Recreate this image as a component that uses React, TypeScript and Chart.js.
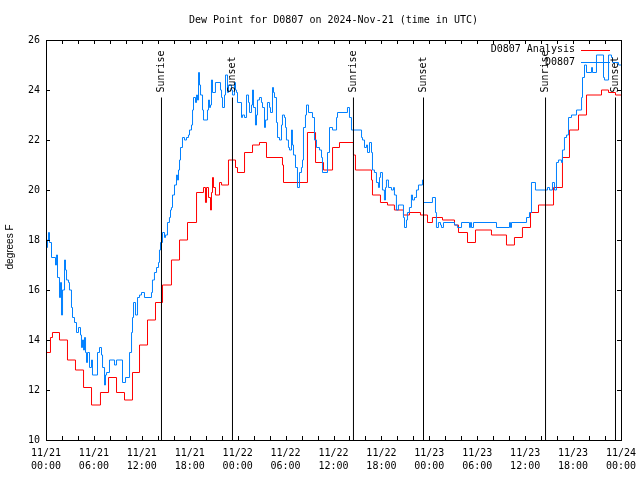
import React, { useEffect, useRef } from 'react';
import { Chart, registerables } from 'chart.js';

Chart.register(...registerables);

const MONO = '"DejaVu Sans Mono", "Liberation Mono", monospace';

const chartTitle = 'Dew Point for D0807 on 2024-Nov-21 (time in UTC)';
const yAxisTitle = 'degrees F';
const seriesNames = ['D0807 Analysis', 'D0807'];
const analysisColor = '#ff0000';
const obsColor = '#0080ff';

const yMin = 10;
const yMax = 26;
const yStep = 2;
const xMaxHours = 72;
const xTickStepHours = 2;
const xLabelEveryHours = 6;
const xTickDates = ['11/21', '11/21', '11/21', '11/21', '11/22', '11/22', '11/22', '11/22', '11/23', '11/23', '11/23', '11/23', '11/24'];
const xTickTimes = ['00:00', '06:00', '12:00', '18:00', '00:00', '06:00', '12:00', '18:00', '00:00', '06:00', '12:00', '18:00', '00:00'];

// Sunrise / sunset markers (hours since 11/21 00:00 UTC)
const eventHours = [14.46, 23.35, 38.5, 47.27, 62.55, 71.31];
const eventLabels = ['Sunrise', 'Sunset', 'Sunrise', 'Sunset', 'Sunrise', 'Sunset'];
const eventTopF = 23.7;

// Analysis (hourly steps)
const anaHours = [
  0, 0.56, 0.81, 1.69, 2.69, 3.69, 4.7, 5.7, 6.82, 7.83, 8.83, 9.83, 10.83, 11.71, 12.71, 13.71, 14.59, 15.71, 16.72, 17.72,
  18.85, 19.72, 19.97, 20.1, 20.35, 20.6, 20.72, 20.85, 20.97, 21.22, 21.73, 21.98, 22.85, 23.73, 23.98, 24.86, 25.86, 26.73,
  27.61, 29.61, 29.74, 32.74, 33.75, 34.75, 35.88, 36.75, 38.5, 38.75, 40.76, 40.88, 41.88, 42.76, 43.63, 44.76, 45.51, 46.89,
  47.77, 48.39, 49.65, 51.15, 51.65, 52.78, 53.78, 55.78, 57.66, 58.66, 59.66, 60.67, 61.67, 63.55, 64.67, 65.55, 66.68, 67.68,
  69.56, 70.44, 71.31, 72,
];
const anaDewF = [
  13.5, 14.1, 14.3, 14.0, 13.2, 12.8, 12.1, 11.4, 11.9, 12.5, 11.9, 11.6, 12.7, 13.8, 14.8, 15.5, 16.2, 17.2, 18.0, 18.7,
  19.9, 20.1, 19.5, 20.1, 19.7, 19.2, 19.9, 20.5, 20.1, 19.8, 20.3, 20.2, 21.2, 20.9, 20.7, 21.5, 21.8, 21.9,
  21.3, 21.0, 20.3, 22.3, 21.1, 20.8, 21.7, 21.9, 21.4, 20.8, 20.4, 19.8, 19.5, 19.4, 19.2, 19.0, 19.1, 19.0,
  18.7, 18.9, 18.8, 18.6, 18.3, 17.9, 18.4, 18.2, 17.8, 18.1, 18.5, 19.1, 19.4, 20.1, 21.3, 22.4, 23.0, 23.8,
  24.0, 23.9, 23.8, 23.8,
];

// Observations
const obsHours = [
  0, 0.19, 0.31, 0.44, 0.69, 1.19, 1.31, 1.44, 1.69, 1.82, 1.94, 2.07, 2.32, 2.44, 2.57, 2.82, 2.94, 3.19, 3.32, 3.57,
  3.82, 4.07, 4.32, 4.44, 4.57, 4.7, 4.82, 4.95, 5.07, 5.2, 5.45, 5.7, 5.82, 6.45, 6.7, 6.95, 7.08, 7.33, 7.45, 7.58,
  7.95, 8.58, 8.83, 9.58, 9.96, 10.46, 10.71, 10.83, 10.96, 11.21, 11.46, 11.71, 11.96, 12.33, 13.21, 13.33, 13.58, 13.84, 14.09, 14.21,
  14.34, 14.59, 14.84, 14.96, 15.21, 15.46, 15.59, 15.71, 15.84, 16.09, 16.34, 16.46, 16.59, 16.72, 16.84, 17.09, 17.34, 17.59, 17.84, 17.97,
  18.22, 18.35, 18.47, 18.72, 18.85, 18.97, 19.1, 19.22, 19.35, 19.6, 19.72, 20.22, 20.35, 20.47, 20.6, 20.72, 20.85, 21.22, 21.85, 21.98,
  22.1, 22.35, 22.48, 22.73, 22.85, 23.23, 23.35, 23.6, 23.73, 23.85, 23.98, 24.48, 24.6, 24.86, 25.11, 25.36, 25.48, 25.73, 25.86, 25.98,
  26.23, 26.36, 26.48, 26.73, 26.98, 27.11, 27.36, 27.48, 27.73, 27.99, 28.11, 28.36, 28.49, 28.61, 28.86, 28.99, 29.24, 29.49, 29.61, 29.86,
  29.99, 30.11, 30.36, 30.49, 30.74, 30.86, 30.99, 31.24, 31.49, 31.74, 31.99, 32.12, 32.24, 32.49, 32.62, 32.87, 33.37, 33.62, 33.87, 34.25,
  34.5, 34.62, 35.25, 35.5, 35.88, 36.38, 36.5, 37.75, 38.0, 38.25, 39.51, 39.63, 39.88, 40.13, 40.26, 40.51, 40.76, 40.88, 41.13, 41.38,
  41.63, 41.76, 41.88, 42.13, 42.38, 42.51, 42.63, 42.88, 43.26, 43.51, 43.63, 43.88, 44.13, 44.76, 44.89, 45.14, 45.26, 45.51, 45.76, 45.89,
  46.14, 46.39, 46.64, 47.14, 47.27, 48.39, 48.77, 48.89, 49.14, 49.4, 49.52, 49.77, 51.15, 51.52, 52.03, 53.03, 53.15, 53.28, 53.53, 56.41,
  58.04, 58.16, 58.29, 60.17, 60.54, 60.79, 61.29, 62.8, 63.05, 63.42, 63.67, 63.92, 64.17, 64.55, 64.67, 64.92, 65.18, 65.43, 65.8, 66.43,
  67.06, 67.18, 67.43, 67.68, 68.31, 68.43, 68.93, 69.81, 69.93, 70.44, 70.81, 70.94, 71.69, 72,
];
const obsDewF = [
  17.7, 18.0, 18.3, 17.9, 17.3, 17.0, 17.4, 16.5, 15.7, 16.3, 15.0, 16.0, 17.2, 16.8, 16.4, 16.3, 16.0, 15.3, 14.9, 14.7,
  14.3, 14.5, 14.2, 13.7, 14.0, 13.6, 14.1, 13.5, 13.1, 13.5, 12.9, 13.2, 12.6, 13.5, 13.7, 13.4, 12.9, 12.2, 12.6, 12.7,
  13.2, 13.0, 13.2, 12.3, 12.5, 13.5, 14.3, 14.9, 15.5, 15.0, 15.7, 15.8, 15.9, 15.7, 15.9, 16.4, 16.7, 16.9, 17.1, 17.6,
  17.9, 18.3, 18.1, 18.2, 18.7, 18.9, 19.2, 19.3, 19.8, 20.2, 20.6, 20.4, 20.8, 21.2, 21.7, 22.1, 22.0, 22.1, 22.2, 22.4,
  22.6, 23.2, 23.7, 23.5, 23.8, 23.6, 24.7, 24.2, 23.8, 23.2, 22.8, 23.2, 23.6, 23.3, 23.4, 24.4, 23.9, 24.3, 24.0, 23.7,
  23.3, 23.8, 24.6, 23.9, 24.2, 24.0, 23.8, 24.3, 24.0, 23.9, 23.5, 22.9, 23.0, 22.9, 23.8, 23.5, 23.1, 23.4, 24.0, 23.3,
  22.6, 23.0, 23.6, 23.7, 23.5, 23.3, 22.5, 22.8, 23.5, 23.3, 23.1, 24.1, 23.9, 23.7, 22.7, 22.1, 22.0, 22.6, 23.0, 22.9,
  22.5, 22.0, 21.7, 21.6, 22.4, 21.8, 21.4, 20.9, 20.1, 20.7, 20.9, 21.2, 22.5, 23.0, 23.4, 23.1, 22.9, 22.0, 21.7, 21.6,
  21.3, 20.7, 21.5, 22.5, 22.4, 22.9, 23.1, 23.3, 22.9, 22.4, 22.1, 22.0, 21.7, 21.8, 21.5, 21.9, 21.5, 20.8, 20.7, 20.3,
  20.1, 20.5, 20.7, 20.0, 19.6, 20.1, 20.4, 20.1, 20.0, 20.1, 19.8, 19.2, 19.4, 18.9, 18.5, 18.8, 19.1, 19.3, 19.8, 19.6,
  19.7, 20.0, 20.2, 20.4, 19.5, 19.7, 19.1, 18.5, 18.7, 18.6, 18.5, 18.7, 18.6, 18.5, 18.7, 18.5, 18.7, 18.5, 18.7, 18.5,
  18.7, 18.5, 18.7, 18.9, 19.1, 20.3, 20.0, 20.1, 20.0, 20.3, 20.0, 21.1, 21.2, 21.1, 21.6, 22.1, 22.2, 22.9, 23.0, 23.2,
  23.7, 24.5, 25.0, 24.7, 24.9, 24.7, 25.4, 24.5, 24.4, 25.4, 25.3, 25.1, 25.0, 25.0,
];

const overlayPlugin = {
  id: 'gnuplotOverlay',
  afterDatasetsDraw(chart: any) {
    const { ctx, chartArea: a, scales } = chart;
    const xs = scales.x;
    const ys = scales.y;
    ctx.save();
    ctx.strokeStyle = '#000';
    ctx.lineWidth = 1;
    ctx.beginPath();
    xs.ticks.forEach((t: any) => {
      const px = Math.round(xs.getPixelForValue(t.value)) + 0.5;
      ctx.moveTo(px, a.bottom);
      ctx.lineTo(px, a.bottom - 4);
      ctx.moveTo(px, a.top);
      ctx.lineTo(px, a.top + 4);
    });
    ys.ticks.forEach((t: any) => {
      const py = Math.round(ys.getPixelForValue(t.value)) + 0.5;
      ctx.moveTo(a.left, py);
      ctx.lineTo(a.left + 4, py);
      ctx.moveTo(a.right, py);
      ctx.lineTo(a.right - 4, py);
    });
    ctx.stroke();
    ctx.strokeRect(a.left + 0.5, a.top + 0.5, a.right - a.left, a.bottom - a.top);

    // event labels
    ctx.fillStyle = '#000';
    ctx.font = `10px ${MONO}`;
    ctx.textAlign = 'left';
    ctx.textBaseline = 'middle';
    eventHours.forEach((h, i) => {
      const px = xs.getPixelForValue(h);
      const py = ys.getPixelForValue(eventTopF) - 5;
      ctx.save();
      ctx.translate(px, py);
      ctx.rotate(-Math.PI / 2);
      ctx.fillText(eventLabels[i], 0, 0);
      ctx.restore();
    });

    // key
    const rows = [
      { name: seriesNames[0], color: analysisColor },
      { name: seriesNames[1], color: obsColor },
    ];
    ctx.textAlign = 'right';
    rows.forEach((r, i) => {
      const y = a.top + 9.5 + i * 12.5;
      ctx.fillStyle = '#000';
      ctx.fillText(r.name, a.right - 46, y);
      ctx.strokeStyle = r.color;
      ctx.beginPath();
      const ly = Math.round(y) + 0.5;
      ctx.moveTo(a.right - 40, ly);
      ctx.lineTo(a.right - 11, ly);
      ctx.stroke();
    });
    ctx.restore();
  },
};

export default function App() {
  const ref = useRef<HTMLCanvasElement>(null);
  useEffect(() => {
    const canvas = ref.current;
    if (!canvas) return;
    const chart = new Chart(canvas, {
      type: 'line',
      data: {
        datasets: [
          {
            label: seriesNames[0],
            data: anaHours.map((h, i) => ({ x: h, y: anaDewF[i] })),
            borderColor: analysisColor,
            borderWidth: 1,
            pointRadius: 0,
            stepped: 'before',
            fill: false,
            order: 1,
          },
          {
            label: seriesNames[1],
            data: obsHours.map((h, i) => ({ x: h, y: obsDewF[i] })),
            borderColor: obsColor,
            borderWidth: 1,
            pointRadius: 0,
            stepped: 'before',
            fill: false,
            order: 0,
          },
          ...eventHours.map((h, i) => ({
            label: eventLabels[i],
            data: [
              { x: h, y: yMin },
              { x: h, y: eventTopF },
            ],
            borderColor: '#000',
            borderWidth: 1,
            pointRadius: 0,
            fill: false,
            order: -1,
          })),
        ] as any,
      },
      options: {
        responsive: false,
        animation: false,
        devicePixelRatio: 1,
        events: [],
        layout: { padding: { left: 0, right: 19, top: 0, bottom: 0 } },
        plugins: {
          legend: { display: false },
          tooltip: { enabled: false },
          title: {
            display: true,
            text: chartTitle,
            fullSize: false,
            color: '#000',
            font: { family: MONO, size: 10, weight: 'normal', lineHeight: 1.2 },
            padding: { top: 14, bottom: 14 },
          },
        },
        scales: {
          x: {
            type: 'linear',
            min: 0,
            max: xMaxHours,
            afterFit: (s: any) => {
              s.height = 40;
              s.paddingLeft = 0;
              s.paddingRight = 0;
            },
            grid: { display: false, drawTicks: false, tickLength: 0 },
            border: { display: false },
            ticks: {
              stepSize: xTickStepHours,
              autoSkip: false,
              maxRotation: 0,
              minRotation: 0,
              padding: 7,
              color: '#000',
              font: { family: MONO, size: 10, lineHeight: 1.3 },
              callback: (v: any) => {
                const h = Number(v);
                if (h % xLabelEveryHours !== 0) return '';
                const i = h / xLabelEveryHours;
                return [xTickDates[i], xTickTimes[i]];
              },
            },
          },
          y: {
            type: 'linear',
            min: yMin,
            max: yMax,
            afterFit: (s: any) => {
              s.width = 46;
              s.paddingTop = 0;
              s.paddingBottom = 0;
            },
            grid: { display: false, drawTicks: false, tickLength: 0 },
            border: { display: false },
            ticks: {
              stepSize: yStep,
              padding: 6,
              color: '#000',
              font: { family: MONO, size: 10 },
            },
            title: {
              display: true,
              text: yAxisTitle + '     ',
              color: '#000',
              font: { family: '"Liberation Sans", Arial, sans-serif', size: 10 },
              padding: { top: 4, bottom: 0 },
            },
          },
        },
      } as any,
      plugins: [overlayPlugin],
    });
    return () => chart.destroy();
  }, []);
  return (
    <div style={{ position: 'absolute', left: 0, top: 0, width: 640, height: 480, background: '#fff' }}>
      <canvas ref={ref} width={640} height={480} style={{ display: 'block', width: 640, height: 480 }} />
    </div>
  );
}
